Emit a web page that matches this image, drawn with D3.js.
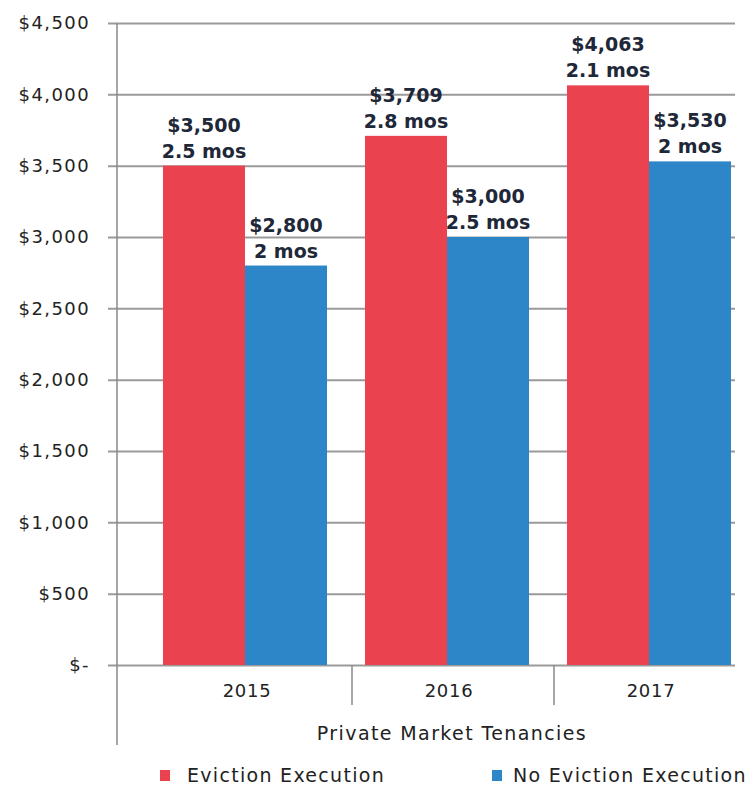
<!DOCTYPE html>
<html>
<head>
<meta charset="utf-8">
<script src="https://cdn.jsdelivr.net/npm/d3@7"></script>
<style>
  body { margin: 0; background: #fff; }
  text { font-family: "DejaVu Sans", sans-serif; }
</style>
</head>
<body>
<div id="chart"></div>
<script>
let dim = { width: 750, height: 789 };

let years = ["2015", "2016", "2017"];
let seriesNames = ["Eviction Execution", "No Eviction Execution"];
let evictionValues = [3500, 3709, 4063];
let noEvictionValues = [2800, 3000, 3530];
let evictionMonths = ["2.5 mos", "2.8 mos", "2.1 mos"];
let noEvictionMonths = ["2 mos", "2.5 mos", "2 mos"];
let tickValues = [0, 500, 1000, 1500, 2000, 2500, 3000, 3500, 4000, 4500];
let colours = ["#eb4250", "#2d86c8"];

let data = years.map((y, i) => ({
  year: y,
  bars: [
    { series: seriesNames[0], value: evictionValues[i], months: evictionMonths[i] },
    { series: seriesNames[1], value: noEvictionValues[i], months: noEvictionMonths[i] }
  ]
}));

let svg = d3.select('#chart').append('svg')
  .attr('width', dim.width)
  .attr('height', dim.height);

let scaleY = d3.scaleLinear().domain([0, 4500]).range([665, 23]);

let scaleX = d3.scaleBand().domain(years).range([150, 756]);
let scaleInner = d3.scaleBand().domain(seriesNames).range([13, 177]);
let colour = d3.scaleOrdinal().domain(seriesNames).range(colours);

let fmt = v => v === 0 ? "$-" : "$" + d3.format(",")(v);

// gridlines + y labels
let axisY = svg.append('g')
  .attr('transform', 'translate(108,0)')
  .call(d3.axisLeft(scaleY).tickValues(tickValues).tickFormat(fmt).tickSize(0).tickPadding(18));
axisY.select('.domain').remove();
axisY.selectAll('text')
  .attr('font-size', 18)
  .attr('letter-spacing', 1.4)
  .attr('fill', '#222')
  .style('font-family', '"DejaVu Sans", sans-serif');
axisY.selectAll('.tick line')
  .attr('x2', 627)
  .attr('stroke', '#9a9a9a')
  .attr('stroke-width', 2);

// vertical axis line
svg.append('line')
  .attr('x1', 117).attr('x2', 117)
  .attr('y1', 23).attr('y2', 745)
  .attr('stroke', '#8a8a8a').attr('stroke-width', 1.5);

// category separators
svg.selectAll('.sep')
  .data(years.slice(1))
  .join('line')
  .attr('class', 'sep')
  .attr('x1', d => scaleX(d)).attr('x2', d => scaleX(d))
  .attr('y1', 665).attr('y2', 705)
  .attr('stroke', '#8a8a8a').attr('stroke-width', 1.5);

let groups = svg.selectAll('.year')
  .data(data)
  .join('g')
  .attr('class', 'year')
  .attr('transform', d => `translate(${scaleX(d.year)},0)`);

groups.selectAll('rect')
  .data(d => d.bars)
  .join('rect')
  .attr('x', d => scaleInner(d.series))
  .attr('y', d => scaleY(d.value))
  .attr('width', scaleInner.bandwidth())
  .attr('height', d => scaleY(0) - scaleY(d.value))
  .attr('fill', d => colour(d.series));

let labels = groups.selectAll('.lbl')
  .data(d => d.bars)
  .join('g')
  .attr('class', 'lbl')
  .attr('transform', d => `translate(${scaleInner(d.series) + scaleInner.bandwidth() / 2},${scaleY(d.value)})`);

labels.append('text')
  .attr('y', -34)
  .attr('text-anchor', 'middle')
  .attr('font-size', 19).attr('font-weight', 'bold')
  .attr('fill', '#1e2838')
  .text(d => fmt(d.value));

labels.append('text')
  .attr('y', -8)
  .attr('text-anchor', 'middle')
  .attr('font-size', 19).attr('font-weight', 'bold')
  .attr('fill', '#1e2838')
  .text(d => d.months);

// year labels
svg.selectAll('.yr')
  .data(years)
  .join('text')
  .attr('class', 'yr')
  .attr('x', d => scaleX(d) + 97)
  .attr('y', 697)
  .attr('text-anchor', 'middle')
  .attr('font-size', 18)
  .attr('letter-spacing', 0.7)
  .attr('fill', '#222')
  .text(d => d);

svg.append('text')
  .attr('x', 452).attr('y', 740)
  .attr('text-anchor', 'middle')
  .attr('font-size', 19)
  .attr('letter-spacing', 1.4)
  .attr('fill', '#222')
  .text('Private Market Tenancies');

// legend
let legendX = [160, 492];
let legend = svg.selectAll('.leg')
  .data(seriesNames)
  .join('g')
  .attr('class', 'leg')
  .attr('transform', (d, i) => `translate(${legendX[i]},770)`);

legend.append('rect')
  .attr('width', 10).attr('height', 11)
  .attr('fill', d => colour(d));

legend.append('text')
  .attr('x', (d, i) => i === 0 ? 27 : 21)
  .attr('y', 12)
  .attr('font-size', 19)
  .attr('letter-spacing', 1.3)
  .attr('fill', '#222')
  .text(d => d);
</script>
</body>
</html>
